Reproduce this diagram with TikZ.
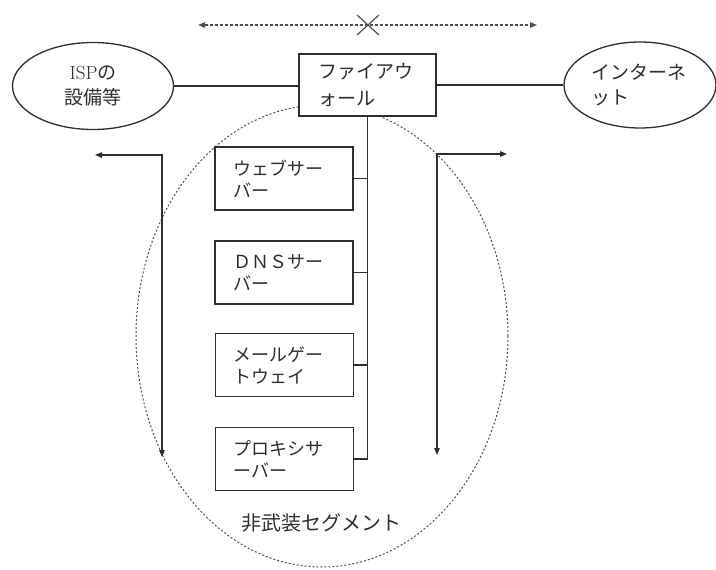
\documentclass[tikz,border=0pt]{standalone}
\usepackage{fontspec}
\newfontfamily\cjk{Noto Sans CJK JP}
\usetikzlibrary{shapes.geometric,arrows.meta}
\definecolor{ink}{HTML}{2e2e2e}
\definecolor{dashink}{HTML}{505050}
\begin{document}
\begin{tikzpicture}[x=1pt,y=-1pt,
  ln/.style={draw=ink, line width=1.1pt},
  arr/.style={ln, {Triangle[length=7pt,width=5.5pt]}-{Triangle[length=7pt,width=5.5pt]}},
  srv/.style={draw=ink, line width=1.3pt, fill=white, rectangle,
    minimum width=138pt, minimum height=63pt, text width=102pt,
    align=left, inner sep=0pt, text=ink,
    font=\cjk\fontsize{18}{22}\selectfont},
  fwbox/.style={draw=ink, line width=1.3pt, fill=white, rectangle,
    minimum width=137pt, minimum height=62pt, text width=99pt,
    align=left, inner sep=0pt, text=ink,
    font=\cjk\fontsize{19}{27}\selectfont},
  oval/.style={draw=ink, line width=1.3pt, ellipse, fill=white, text=ink,
    inner sep=2pt, font=\cjk\fontsize{19}{25}\selectfont},
  seglbl/.style={text=ink, font=\cjk\fontsize{20}{24}\selectfont}
]
\useasboundingbox (0,0) rectangle (716,570);

% dashed segment ellipse
\draw[dashink, line width=1pt, dash pattern=on 2pt off 2pt]
  (322,336) ellipse [x radius=186pt, y radius=231pt];

% top dashed arrow with X
\coordinate (ta) at (198,25);
\coordinate (tb) at (537,25);
\coordinate (xm) at (368,25);
\draw[dashink, line width=1.1pt, dash pattern=on 3pt off 2pt,
  {Triangle[length=7pt,width=5.5pt]}-{Triangle[length=7pt,width=5.5pt]}] (ta) -- (tb);
\draw[dashink, line width=1.2pt] ([shift={(-11,-10)}]xm) -- ([shift={(11,10)}]xm)
  ([shift={(-11,10)}]xm) -- ([shift={(11,-10)}]xm);

% main nodes
\node[oval, minimum width=161pt, minimum height=87pt, align=center] (isp) at (93,86)
  {{\fontspec{Latin Modern Roman}ISP}の\\設備等};
\node[fwbox] (fw) at (367.5,85) {ファイアウ\\ォール};
\node[oval, minimum width=152pt, minimum height=86pt, text width=98pt, align=left] (inet) at (640,85)
  {インターネ\\ット};

\draw[ln] (isp.east) -- (isp.east -| fw.west);
\draw[ln] (fw.east) -- (fw.east -| inet.west);

% servers
\node[srv] (web)   at (284,178.5) {ウェブサー\\バー};
\node[srv] (dns)   at (284,272.5) {ＤＮＳサー\\バー};
\node[srv] (mail)  at (284.5,365) {メールゲー\\トウェイ};
\node[srv] (proxy) at (284.5,459) {プロキシサ\\ーバー};

% trunk and stubs
\coordinate (tr) at (fw.south |- proxy.east);
\draw[ln] (fw.south) -- (tr);
\draw[ln] (web.east) -- (web.east -| tr);
\draw[ln] (dns.east) -- (dns.east -| tr);
\draw[ln] (mail.east) -- (mail.east -| tr);
\draw[ln] (proxy.east) -- (tr);

% side arrows
\coordinate (la) at (95,155);
\coordinate (lb) at (162,457);
\draw[arr] (la) -| (lb);
\coordinate (ra) at (507,154);
\coordinate (rb) at (437,455);
\draw[arr] (ra) -| (rb);

% segment label
\node[seglbl] (seg) at (321,523) {非武装セグメント};
\end{tikzpicture}
\end{document}
